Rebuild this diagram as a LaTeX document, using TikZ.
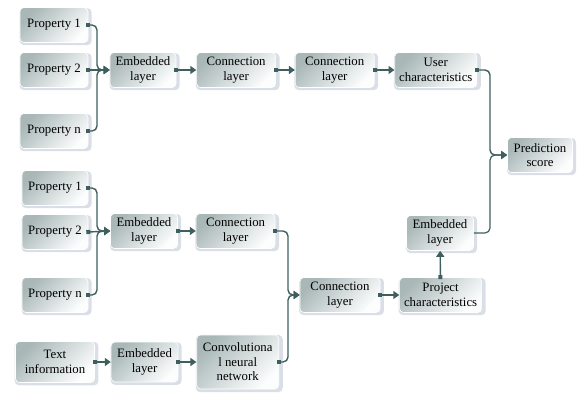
\documentclass[tikz,border=0pt]{standalone}
\usepackage{fontspec}
\setmainfont{Liberation Serif}
\usetikzlibrary{positioning,arrows.meta,shadows}
\definecolor{linkgray}{HTML}{3F5F5F}
\definecolor{boxdark}{HTML}{A9B7B7}
\definecolor{boxlight}{HTML}{FCFDFD}
\definecolor{haze}{HTML}{D6DBE4}

\begin{document}
\begin{tikzpicture}[x=1pt, y=-1pt, node distance=19pt, every node/.style={font=\fontsize{12.8}{14.5}\selectfont}]
  % Styles
  \tikzstyle{block}=[rectangle, rounded corners=4pt, draw=white, line width=0.6pt, align=center, inner sep=1pt, minimum height=35pt, top color=boxdark, bottom color=boxlight, shading angle=45, drop shadow={fill=haze, shadow xshift=1.5pt, shadow yshift=-1.5pt, shadow scale=1.06, opacity=0.9}]
  \tikzstyle{link}=[draw=linkgray, line width=1.4pt, rounded corners=5pt, {Square[length=4pt,width=4pt]}-{Triangle[length=6pt,width=8pt]}, shorten <=-2pt]
  \tikzstyle{plainlink}=[draw=linkgray, line width=1.2pt, rounded corners=5pt, -{Triangle[length=6pt,width=8pt]}]

  \useasboundingbox (0,0) rectangle (579,392);

  % User branch
  \node[block, minimum width=68pt] (up1) at (54,25) {Property 1};
  \node[block, minimum width=68pt] (up2) at (54,70) {Property 2};
  \node[block, minimum width=68pt] (upn) at (54,131) {Property n};
  \node[block, minimum width=66pt] (uemb) at (143,70) {Embedded\\layer};
  \node[block, minimum width=79pt, right=20pt of uemb] (uconA) {Connection\\layer};
  \node[block, minimum width=79pt, right=19pt of uconA] (uconB) {Connection\\layer};
  \node[block, minimum width=82pt, right=20pt of uconB] (user) {User\\characteristics};

  % Project branch
  \node[block, minimum width=66pt] (pp1) at (55,188) {Property 1};
  \node[block, minimum width=66pt] (pp2) at (55,232) {Property 2};
  \node[block, minimum width=66pt] (ppn) at (55,295) {Property n};
  \node[block, minimum width=67pt] (pemb) at (144,231) {Embedded\\layer};
  \node[block, minimum width=79pt, right=18pt of pemb] (pcon) {Connection\\layer};
  \node[block, minimum width=79pt, minimum height=41pt] (txt) at (55,362) {Text\\information};
  \node[block, minimum width=67pt, minimum height=40pt, right=16pt of txt] (temb) {Embedded\\layer};
  \node[block, minimum width=82pt, minimum height=54pt, right=18pt of temb] (cnn) {Convolutiona\\l neural\\network};
  \node[block, minimum width=80pt] (merge) at (340,295) {Connection\\layer};
  \node[block, minimum width=82pt, right=19pt of merge] (proj) {Project\\characteristics};
  \node[block, minimum width=67pt] (pemb2) at (440,233) {Embedded\\layer};

  % Output
  \node[block, minimum width=65pt] (score) at (540,155) {Prediction\\score};

  % Junctions
  \coordinate (busA) at (97,70);
  \coordinate (busB) at (97,231);
  \coordinate (busC) at (288,295);
  \coordinate (busD) at (490,155);

  % Arrows
  \draw[link] (up1.east) -| (busA) -- (uemb.west);
  \draw[link] (up2.east) -- (uemb.west);
  \draw[link] (upn.east) -| (busA) -- (uemb.west);
  \draw[link] (uemb) -- (uconA);
  \draw[link] (uconA) -- (uconB);
  \draw[link] (uconB) -- (user);

  \draw[link] (pp1.east) -| (busB) -- (pemb.west);
  \draw[link] (pp2.east) -- (pemb.west);
  \draw[link] (ppn.east) -| (busB) -- (pemb.west);
  \draw[link] (pemb) -- (pcon);
  \draw[link] (txt) -- (temb);
  \draw[link] (temb) -- (cnn);
  \draw[link] (pcon.east) -| (busC) -- (merge.west);
  \draw[link] (cnn.east) -| (busC) -- (merge.west);
  \draw[link] (merge) -- (proj);
  \draw[link] (proj) -- (pemb2);

  \draw[link] (user.east) -| (busD) -- (score.west);
  \draw[plainlink] (pemb2.east) -| (busD) -- (score.west);
\end{tikzpicture}
\end{document}
